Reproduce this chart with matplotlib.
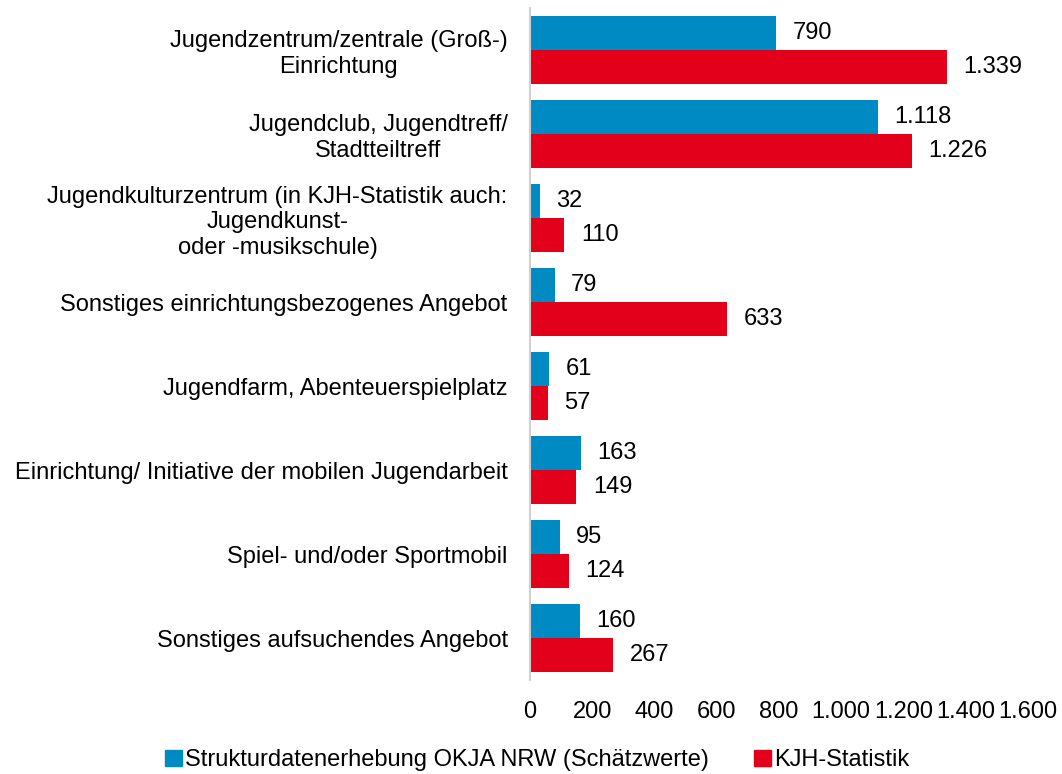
import matplotlib.pyplot as plt
import matplotlib as mpl
import numpy as np
from matplotlib.patches import Patch
from matplotlib.ticker import FuncFormatter

mpl.rcParams.update({"font.family": ["Liberation Sans", "DejaVu Sans"], "font.size": 17})

categories = [
    "Jugendzentrum/zentrale (Groß-)\nEinrichtung",
    "Jugendclub, Jugendtreff/\nStadtteiltreff",
    "Jugendkulturzentrum (in KJH-Statistik auch:\nJugendkunst-\noder -musikschule)",
    "Sonstiges einrichtungsbezogenes Angebot",
    "Jugendfarm, Abenteuerspielplatz",
    "Einrichtung/ Initiative der mobilen Jugendarbeit",
    "Spiel- und/oder Sportmobil",
    "Sonstiges aufsuchendes Angebot",
]
okja = [790, 1118, 32, 79, 61, 163, 95, 160]
kjh = [1339, 1226, 110, 633, 57, 149, 124, 267]
series_names = ["Strukturdatenerhebung OKJA NRW (Schätzwerte)", "KJH-Statistik"]
BLUE, RED = "#008AC3", "#E2001A"


def de(v):
    return f"{int(v):,}".replace(",", ".")


fig = plt.figure(figsize=(10.62, 7.74), dpi=100)
ax = fig.add_axes([0.499, 0.121, 0.469, 0.869])
y = np.arange(len(categories))
h = 0.405
b1 = ax.barh(y - h / 2, okja, height=h, color=BLUE)
b2 = ax.barh(y + h / 2, kjh, height=h, color=RED)
for bars, vals in ((b1, okja), (b2, kjh)):
    ax.bar_label(bars, labels=[de(v) for v in vals], padding=12)

ax.set_xlim(0, 1600)
ax.set_ylim(len(categories) - 0.5, -0.5)
ax.set_xticks(range(0, 1601, 200))
ax.xaxis.set_major_formatter(FuncFormatter(lambda v, p: de(v)))
ax.set_yticks(y)
ax.set_yticklabels(categories, multialignment="center", linespacing=1.2)
ax.tick_params(axis="both", length=0)
ax.tick_params(axis="x", pad=15)
ax.tick_params(axis="y", pad=16)
for s in ("top", "right", "bottom"):
    ax.spines[s].set_visible(False)
ax.spines["left"].set_color("#d0d0d0")
ax.spines["left"].set_linewidth(1.5)

handles = [Patch(color=BLUE), Patch(color=RED)]
fig.legend(handles, series_names, loc="center", bbox_to_anchor=(0.506, 0.018), ncol=2,
           frameon=False, handlelength=0.7, handleheight=0.7, handletextpad=0.15,
           columnspacing=1.9)

fig.savefig("out.png", dpi=100)
